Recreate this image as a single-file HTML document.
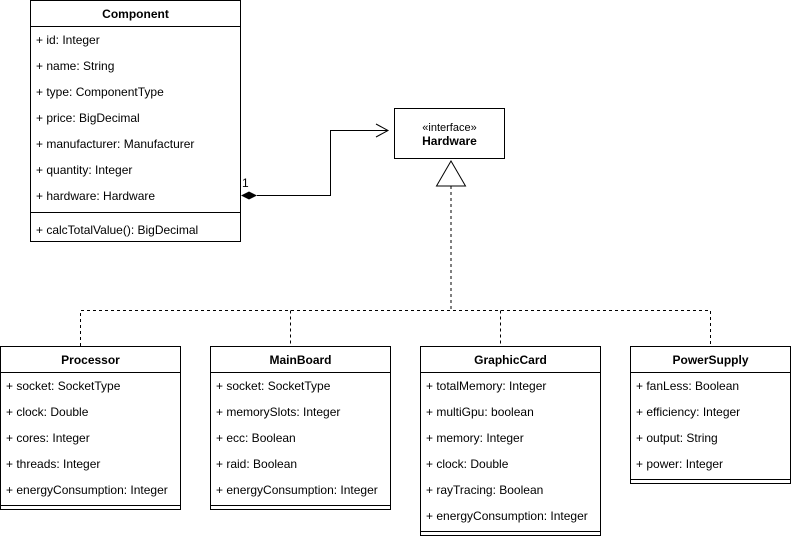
<!DOCTYPE html>
<html><head><meta charset="utf-8"><style>
body{margin:0;background:#fff;width:791px;height:537px;overflow:hidden}
svg text{font-family:"Liberation Sans",Arial,sans-serif;font-size:12px;fill:#000}
.b{font-weight:bold}
</style></head><body>
<svg width="791" height="537" viewBox="0 0 791 537" xmlns="http://www.w3.org/2000/svg">
<g fill="#fff" stroke="#000" stroke-width="1">
<!-- Component -->
<rect x="30.5" y="0.5" width="210" height="241"/>
<line x1="30.5" y1="26.5" x2="240.5" y2="26.5"/>
<line x1="30.5" y1="212.5" x2="240.5" y2="212.5"/>
<!-- Hardware -->
<rect x="394.5" y="108.5" width="110" height="50"/>
<!-- Processor -->
<rect x="0.5" y="346.5" width="180" height="163"/>
<line x1="0.5" y1="372.5" x2="180.5" y2="372.5"/>
<line x1="0.5" y1="505.5" x2="180.5" y2="505.5"/>
<!-- MainBoard -->
<rect x="210.5" y="346.5" width="180" height="163"/>
<line x1="210.5" y1="372.5" x2="390.5" y2="372.5"/>
<line x1="210.5" y1="505.5" x2="390.5" y2="505.5"/>
<!-- GraphicCard -->
<rect x="420.5" y="346.5" width="180" height="189"/>
<line x1="420.5" y1="372.5" x2="600.5" y2="372.5"/>
<line x1="420.5" y1="531.5" x2="600.5" y2="531.5"/>
<!-- PowerSupply -->
<rect x="630.5" y="346.5" width="160" height="137"/>
<line x1="630.5" y1="372.5" x2="790.5" y2="372.5"/>
<line x1="630.5" y1="479.5" x2="790.5" y2="479.5"/>
</g>
<!-- connectors -->
<g fill="none" stroke="#000" stroke-width="1">
<polyline points="257,195.5 330.5,195.5 330.5,130.5 388,130.5"/>
<polyline points="376,124 388,130.5 376,137"/>
<polygon points="451,161 436.5,186 465.5,186" fill="#fff"/>
<g stroke-dasharray="3,3">
<line x1="451" y1="186" x2="451" y2="310.5"/>
<polyline points="80.5,346 80.5,310.5 710.5,310.5 710.5,346"/>
<line x1="290.5" y1="310.5" x2="290.5" y2="346"/>
<line x1="500.5" y1="310.5" x2="500.5" y2="346"/>
</g>
</g>
<polygon points="241,195.5 249,191.5 257,195.5 249,199.5" fill="#000"/>
<text x="242" y="187" font-size="11">1</text>
<!-- texts -->
<text x="135.5" y="18" text-anchor="middle" class="b">Component</text>
<text x="36" y="44">+ id: Integer</text>
<text x="36" y="70">+ name: String</text>
<text x="36" y="96">+ type: ComponentType</text>
<text x="36" y="122">+ price: BigDecimal</text>
<text x="36" y="148">+ manufacturer: Manufacturer</text>
<text x="36" y="174">+ quantity: Integer</text>
<text x="36" y="200">+ hardware: Hardware</text>
<text x="36" y="234">+ calcTotalValue(): BigDecimal</text>

<text x="449.5" y="131" text-anchor="middle" style="font-size:11px">«interface»</text>
<text x="449.5" y="145" text-anchor="middle" class="b">Hardware</text>

<text x="90.5" y="364" text-anchor="middle" class="b">Processor</text>
<text x="6" y="390">+ socket: SocketType</text>
<text x="6" y="416">+ clock: Double</text>
<text x="6" y="442">+ cores: Integer</text>
<text x="6" y="468">+ threads: Integer</text>
<text x="6" y="494">+ energyConsumption: Integer</text>

<text x="300.5" y="364" text-anchor="middle" class="b">MainBoard</text>
<text x="216" y="390">+ socket: SocketType</text>
<text x="216" y="416">+ memorySlots: Integer</text>
<text x="216" y="442">+ ecc: Boolean</text>
<text x="216" y="468">+ raid: Boolean</text>
<text x="216" y="494">+ energyConsumption: Integer</text>

<text x="510.5" y="364" text-anchor="middle" class="b">GraphicCard</text>
<text x="426" y="390">+ totalMemory: Integer</text>
<text x="426" y="416">+ multiGpu: boolean</text>
<text x="426" y="442">+ memory: Integer</text>
<text x="426" y="468">+ clock: Double</text>
<text x="426" y="494">+ rayTracing: Boolean</text>
<text x="426" y="520">+ energyConsumption: Integer</text>

<text x="710.5" y="364" text-anchor="middle" class="b">PowerSupply</text>
<text x="636" y="390">+ fanLess: Boolean</text>
<text x="636" y="416">+ efficiency: Integer</text>
<text x="636" y="442">+ output: String</text>
<text x="636" y="468">+ power: Integer</text>
</svg>
</body></html>
